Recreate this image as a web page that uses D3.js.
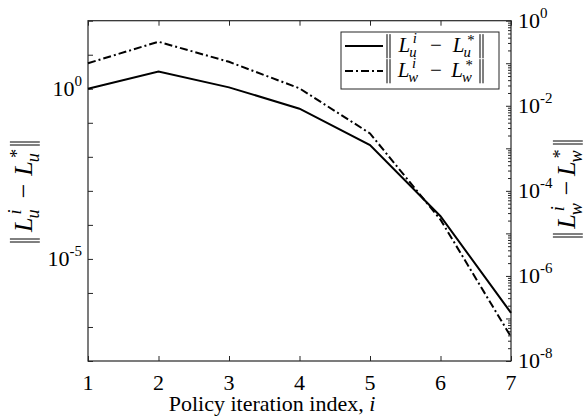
<!DOCTYPE html>
<html>
<head>
<script src="https://cdn.jsdelivr.net/npm/d3@7"></script>
<style>
  body { margin: 0; background: #fff; }
</style>
</head>
<body>
<script>
// policy iteration index
var iters = [1, 2, 3, 4, 5, 6, 7];
// ||L_u^i - L_u^*||  (left axis)
var errU = [1.0, 3.2, 1.1, 0.26, 0.022, 1.8e-4, 2.6e-7];
// ||L_w^i - L_w^*||  (right axis)
var errW = [0.10, 0.32, 0.108, 0.0257, 2.24e-3, 2.1e-5, 3.7e-8];
var leftLabels = [1e0, 1e-5];
var rightLabels = [1e0, 1e-2, 1e-4, 1e-6, 1e-8];

var W = 584, H = 419;
var m = { left: 88, right: 511, top: 20.7, bottom: 361 };
var FONT = "'Liberation Serif', 'Times New Roman', 'DejaVu Serif', serif";

var svg = d3.select("body").append("svg")
    .attr("width", W)
    .attr("height", H)
    .style("font-family", FONT);

var x = d3.scaleLinear().domain([1, 7]).range([m.left, m.right]);
var yL = d3.scaleLog().domain([1e-8, 1e2]).range([m.bottom, m.top]);
var yR = d3.scaleLog().domain([1e-8, 1e0]).range([m.bottom, m.top]);

var axisCol = "#262626";

// bottom / top ticks (inward)
svg.append("g").attr("transform", "translate(0," + m.bottom + ")")
    .call(d3.axisBottom(x).tickValues(iters).tickSize(-5).tickFormat(""))
    .call(g => g.select(".domain").remove());
svg.append("g").attr("transform", "translate(0," + m.top + ")")
    .call(d3.axisTop(x).tickValues(iters).tickSize(-5).tickFormat(""))
    .call(g => g.select(".domain").remove());

// left ticks every decade
var decL = d3.range(-8, 3).map(e => Math.pow(10, e));
svg.append("g").attr("transform", "translate(" + m.left + ",0)")
    .call(d3.axisLeft(yL).tickValues(decL).tickSize(-5).tickFormat(""))
    .call(g => g.select(".domain").remove());

// right ticks: decades + minors
var minorR = [];
for (var e = -8; e < 0; e++) for (var k = 2; k < 10; k++) minorR.push(k * Math.pow(10, e));
svg.append("g").attr("transform", "translate(" + m.right + ",0)")
    .call(d3.axisRight(yR).tickValues(d3.range(-8, 1).map(e => Math.pow(10, e))).tickSize(-5).tickFormat(""))
    .call(g => g.select(".domain").remove());
svg.append("g").attr("transform", "translate(" + m.right + ",0)")
    .call(d3.axisRight(yR).tickValues(minorR).tickSize(-3).tickFormat(""))
    .call(g => g.select(".domain").remove());

svg.selectAll(".tick line").attr("stroke", axisCol);

// box
svg.append("rect")
    .attr("x", m.left).attr("y", m.top)
    .attr("width", m.right - m.left).attr("height", m.bottom - m.top)
    .attr("fill", "none").attr("stroke", axisCol).attr("stroke-width", 1.2);

function txt(sel) {
  return sel.append("text").style("font-family", FONT).attr("fill", "#000");
}

// tick labels
var fs = 22;
function powLabel(xp, yp, v, anchorEnd) {
  var ex = Math.round(Math.log10(v));
  var t = txt(svg).attr("y", yp + 7).attr("font-size", fs);
  t.append("tspan").text("10");
  t.append("tspan").attr("dy", -10).attr("font-size", 15).text(ex === 0 ? "0" : "-" + Math.abs(ex));
  var w = t.node().getComputedTextLength();
  t.attr("x", anchorEnd ? xp - w : xp);
}
leftLabels.forEach(v => powLabel(m.left - 6, yL(v), v, true));
rightLabels.forEach(v => powLabel(m.right + 7, yR(v), v, false));

iters.forEach(function(d) {
  txt(svg).attr("x", x(d)).attr("y", 390)
    .attr("text-anchor", "middle").attr("font-size", fs)
    .text(d);
});

var xt = txt(svg).attr("x", 272).attr("y", 411)
    .attr("text-anchor", "middle").attr("font-size", 22);
xt.append("tspan").text("Policy iteration index, ");
xt.append("tspan").attr("font-style", "italic").text("i");

// math label ||L_sub^i - L_sub^*||, stretched to a target length
function normLabel(g, sub, size, target) {
  var ss = size * 0.7;
  function measure(str, sz, it) {
    var t = txt(svg).attr("font-size", sz).attr("font-style", it ? "italic" : "normal").text(str);
    var w = t.node().getComputedTextLength();
    t.remove();
    return w;
  }
  var barW = 7, kern = size * 0.08;
  var wL = measure("L", size, true);
  var wS1 = Math.max(measure("i", ss, true), measure(sub, ss, true)) + kern;
  var wS2 = Math.max(measure("*", ss, false), measure(sub, ss, true)) + kern;
  var wM = measure("\u2212", size, false);
  var natural = 2 * barW + 2 * wL + wS1 + wS2 + wM;
  var extra = Math.max(0, target - natural);
  var gaps = [1, 2, 2, 1].map(v => v * extra / 6);

  var t = txt(g).attr("font-size", size);
  var cx = barW + gaps[0];
  function add(str, sz, it, x0, y0) {
    t.append("tspan").attr("x", x0).attr("y", y0)
      .attr("font-size", sz).attr("font-style", it ? "italic" : "normal").text(str);
  }
  add("L", size, true, cx, 0); cx += wL;
  add("i", ss, true, cx + kern + 1, -size * 0.42);
  add(sub, ss, true, cx - 1, size * 0.25);
  cx += wS1 + gaps[1];
  add("\u2212", size, false, cx, 0); cx += wM + gaps[2];
  add("L", size, true, cx, 0); cx += wL;
  add("*", ss, false, cx + kern + 1, -size * 0.35);
  add(sub, ss, true, cx - 1, size * 0.25);
  cx += wS2 + gaps[3];
  var h0 = -size * 0.85, h1 = size * 0.3;
  [0, cx].forEach(function(bx) {
    [1, 4].forEach(function(o) {
      g.append("line").attr("x1", bx + o).attr("x2", bx + o)
        .attr("y1", h0).attr("y2", h1).attr("stroke", "#000").attr("stroke-width", 1);
    });
  });
  return cx + barW;
}

// y labels
var gl = svg.append("g");
var wl = normLabel(gl, "u", 26, 104);
gl.attr("transform", "translate(32," + (191 + wl / 2) + ") rotate(-90)");

var gr = svg.append("g");
var wr = normLabel(gr, "w", 26, 100);
gr.attr("transform", "translate(575," + (188 + wr / 2) + ") rotate(-90)");

// lines
var line = (ys, data) => d3.line().x((d, i) => x(iters[i])).y(d => ys(d))(data);
svg.append("path").attr("d", line(yL, errU))
    .attr("fill", "none").attr("stroke", "#000").attr("stroke-width", 2);
svg.append("path").attr("d", line(yR, errW))
    .attr("fill", "none").attr("stroke", "#000").attr("stroke-width", 2)
    .attr("stroke-dasharray", "8,3,2,3");

// legend
var lg = svg.append("g");
lg.append("rect").attr("x", 341).attr("y", 32).attr("width", 158).attr("height", 57)
    .attr("fill", "#fff").attr("stroke", axisCol).attr("stroke-width", 1);
[["u", null, 46], ["w", "8,3,2,3", 71]].forEach(function(r) {
  lg.append("line").attr("x1", 345).attr("x2", 383).attr("y1", r[2]).attr("y2", r[2])
    .attr("stroke", "#000").attr("stroke-width", 2).attr("stroke-dasharray", r[1]);
  var g = lg.append("g").attr("transform", "translate(386," + (r[2] + 6) + ")");
  normLabel(g, r[0], 21, 100);
});
</script>
</body>
</html>
